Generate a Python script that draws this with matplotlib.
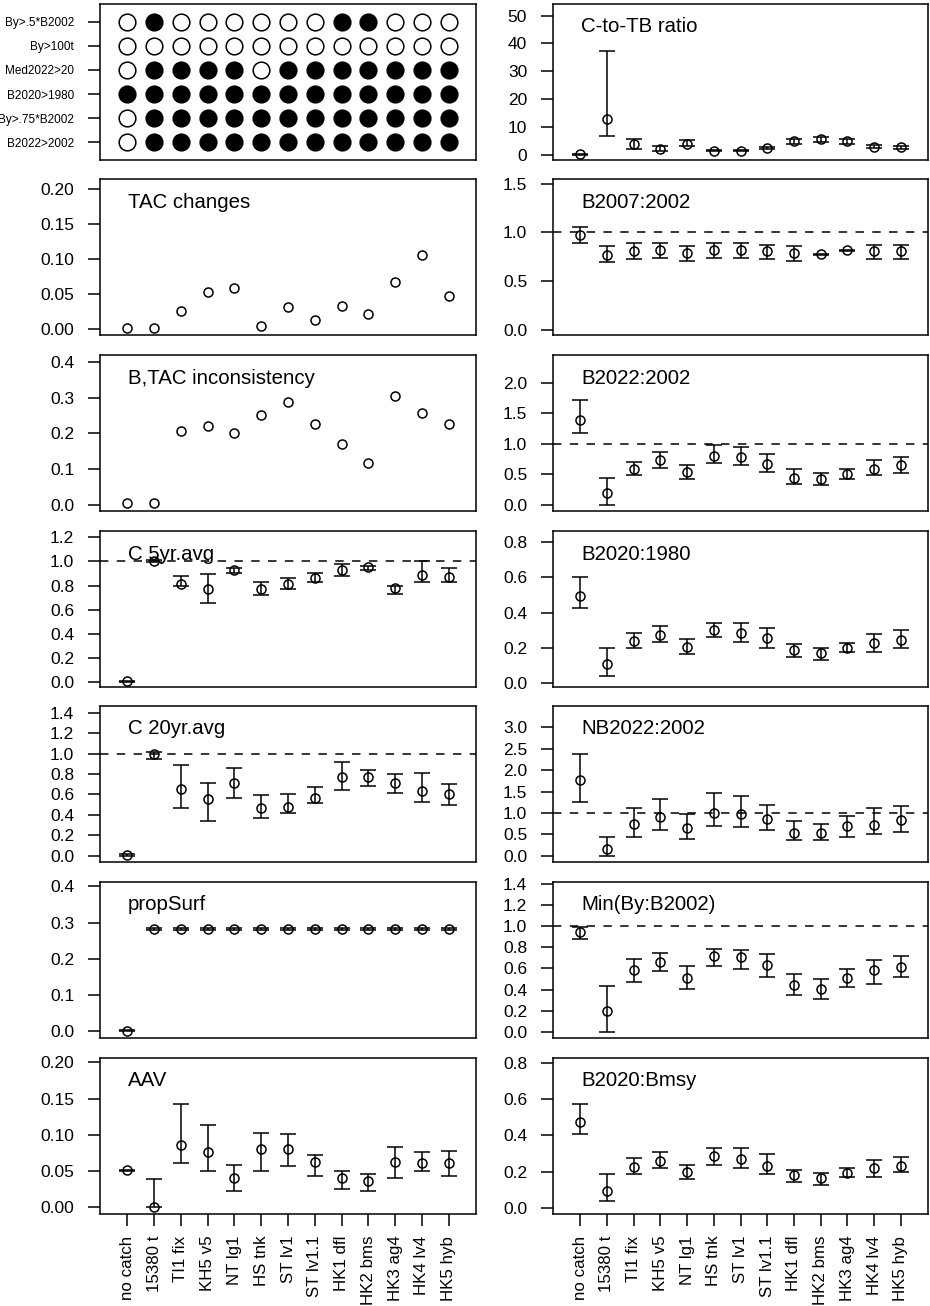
import numpy as np
import matplotlib.pyplot as plt

plt.rcParams['font.family'] = ['Liberation Sans', 'DejaVu Sans']

# management procedures (x axis)
mps = ['no catch', '15380 t', 'TI1 fix', 'KH5 v5', 'NT lg1', 'HS tnk', 'ST lv1',
       'ST lv1.1', 'HK1 dfl', 'HK2 bms', 'HK3 ag4', 'HK4 lv4', 'HK5 hyb']

# criteria panel (top to bottom), 1 = filled circle
crit_labels = ['By>.5*B2002', 'By>100t', 'Med2022>20', 'B2020>1980', 'By>.75*B2002', 'B2022>2002']
crit_by_half = [0, 1, 0, 0, 0, 0, 0, 0, 1, 1, 0, 0, 0]
crit_by_100t = [0, 0, 0, 0, 0, 0, 0, 0, 0, 0, 0, 0, 0]
crit_med2022 = [0, 1, 1, 1, 1, 0, 1, 1, 1, 1, 1, 1, 1]
crit_b2020 = [1, 1, 1, 1, 1, 1, 1, 1, 1, 1, 1, 1, 1]
crit_by_75 = [0, 1, 1, 1, 1, 1, 1, 1, 1, 1, 1, 1, 1]
crit_b2022 = [0, 1, 1, 1, 1, 1, 1, 1, 1, 1, 1, 1, 1]

# point-only panels
tac_changes = [0.002, 0.002, 0.027, 0.054, 0.059, 0.005, 0.032, 0.013, 0.034, 0.022, 0.068, 0.107, 0.048]
btac_incons = [0.004, 0.004, 0.207, 0.220, 0.202, 0.252, 0.287, 0.225, 0.171, 0.118, 0.305, 0.256, 0.225]

# panels with intervals: median, lower, upper
ctb_med = [0.1, 12.9, 3.9, 1.9, 3.9, 1.4, 1.4, 2.4, 4.9, 5.6, 4.9, 2.9, 2.75]
ctb_lo = [0.0, 6.9, 2.0, 1.5, 3.0, 1.2, 1.2, 2.0, 3.9, 4.4, 3.8, 2.3, 2.2]
ctb_hi = [0.2, 37.3, 5.6, 3.3, 5.3, 1.7, 1.6, 2.6, 5.6, 6.3, 5.7, 3.5, 3.3]

c5_med = [0.005, 1.005, 0.81, 0.768, 0.926, 0.768, 0.81, 0.862, 0.926, 0.953, 0.776, 0.887, 0.873]
c5_lo = [0.0, 0.995, 0.795, 0.654, 0.906, 0.718, 0.77, 0.826, 0.879, 0.931, 0.734, 0.826, 0.826]
c5_hi = [0.01, 1.015, 0.879, 0.893, 0.948, 0.826, 0.862, 0.906, 0.976, 0.964, 0.798, 1.006, 0.942]

c20_med = [0.01, 1.0, 0.65, 0.552, 0.708, 0.464, 0.48, 0.565, 0.767, 0.767, 0.708, 0.633, 0.601]
c20_lo = [0.0, 0.95, 0.471, 0.344, 0.562, 0.373, 0.418, 0.513, 0.643, 0.679, 0.61, 0.529, 0.497]
c20_hi = [0.015, 1.01, 0.887, 0.714, 0.854, 0.591, 0.607, 0.669, 0.919, 0.838, 0.796, 0.809, 0.702]

surf_med = [0.002, 0.283, 0.283, 0.283, 0.283, 0.283, 0.283, 0.283, 0.283, 0.283, 0.283, 0.283, 0.283]
surf_lo = [0.001, 0.281, 0.281, 0.281, 0.281, 0.281, 0.281, 0.281, 0.281, 0.281, 0.281, 0.281, 0.281]
surf_hi = [0.003, 0.284, 0.284, 0.284, 0.284, 0.284, 0.284, 0.284, 0.284, 0.284, 0.284, 0.284, 0.284]

aav_med = [0.051, 0.0005, 0.086, 0.076, 0.040, 0.080, 0.080, 0.062, 0.040, 0.036, 0.062, 0.061, 0.061]
aav_lo = [0.050, 0.0, 0.061, 0.050, 0.023, 0.050, 0.057, 0.044, 0.026, 0.023, 0.041, 0.050, 0.044]
aav_hi = [0.052, 0.039, 0.143, 0.114, 0.059, 0.103, 0.101, 0.072, 0.050, 0.046, 0.083, 0.076, 0.078]

b07_med = [0.969, 0.77, 0.805, 0.818, 0.788, 0.818, 0.818, 0.805, 0.788, 0.78, 0.82, 0.805, 0.805]
b07_lo = [0.897, 0.695, 0.729, 0.743, 0.712, 0.743, 0.737, 0.729, 0.712, 0.765, 0.808, 0.729, 0.729]
b07_hi = [1.06, 0.863, 0.897, 0.897, 0.863, 0.897, 0.897, 0.873, 0.863, 0.78, 0.82, 0.873, 0.873]

b22_med = [1.384, 0.20, 0.594, 0.730, 0.545, 0.80, 0.78, 0.67, 0.44, 0.42, 0.507, 0.594, 0.649]
b22_lo = [1.183, 0.0, 0.485, 0.610, 0.43, 0.69, 0.648, 0.54, 0.343, 0.32, 0.43, 0.485, 0.529]
b22_hi = [1.711, 0.447, 0.708, 0.867, 0.654, 0.98, 0.948, 0.839, 0.583, 0.518, 0.583, 0.730, 0.79]

b80_med = [0.493, 0.106, 0.236, 0.273, 0.207, 0.30, 0.282, 0.253, 0.188, 0.171, 0.20, 0.226, 0.246]
b80_lo = [0.426, 0.038, 0.196, 0.23, 0.167, 0.259, 0.23, 0.196, 0.15, 0.13, 0.178, 0.178, 0.20]
b80_hi = [0.599, 0.196, 0.284, 0.322, 0.25, 0.342, 0.342, 0.313, 0.221, 0.20, 0.226, 0.276, 0.298]

nb22_med = [1.76, 0.155, 0.752, 0.907, 0.651, 1.008, 0.984, 0.868, 0.535, 0.535, 0.69, 0.721, 0.829]
nb22_lo = [1.256, 0.0, 0.442, 0.597, 0.403, 0.698, 0.674, 0.597, 0.364, 0.364, 0.442, 0.519, 0.558]
nb22_hi = [2.38, 0.442, 1.116, 1.333, 0.984, 1.473, 1.403, 1.178, 0.814, 0.736, 0.922, 1.116, 1.155]

minb_med = [0.947, 0.195, 0.582, 0.657, 0.509, 0.72, 0.704, 0.629, 0.447, 0.406, 0.509, 0.588, 0.613]
minb_lo = [0.88, 0.0, 0.469, 0.572, 0.409, 0.619, 0.594, 0.519, 0.346, 0.314, 0.425, 0.456, 0.519]
minb_hi = [0.99, 0.437, 0.692, 0.742, 0.619, 0.786, 0.77, 0.739, 0.547, 0.50, 0.594, 0.682, 0.714]

bmsy_med = [0.471, 0.095, 0.228, 0.261, 0.20, 0.287, 0.27, 0.234, 0.184, 0.164, 0.192, 0.219, 0.234]
bmsy_lo = [0.405, 0.037, 0.186, 0.223, 0.159, 0.237, 0.223, 0.186, 0.142, 0.126, 0.17, 0.17, 0.197]
bmsy_hi = [0.57, 0.186, 0.274, 0.309, 0.237, 0.329, 0.329, 0.298, 0.21, 0.195, 0.219, 0.265, 0.283]

W, H = 930, 1306
row_tops = [4, 179, 355, 531, 706, 882, 1058]
PH = 156
left_x = (100, 476)
right_x = (553, 928)
x = np.arange(1, len(mps) + 1)


def make_ax(fig, col, row):
    x0, x1 = col
    top = row_tops[row]
    ax = fig.add_axes([x0 / W, 1 - (top + PH) / H, (x1 - x0) / W, PH / H])
    ax.set_xlim(-0.02, 14.02)
    for s in ax.spines.values():
        s.set_linewidth(1.1)
    ax.tick_params(axis='y', length=8.6, width=1.1, pad=10, labelsize=12.5)
    ax.set_xticks([])
    return ax


def finish(ax, title, ylim, ticks, fmt, ref=False, bottom=False):
    ax.set_ylim(*ylim)
    ax.set_yticks(ticks)
    ax.set_yticklabels([fmt.format(t) for t in ticks])
    if ref:
        ax.axhline(1.0, color='black', lw=1.1, ls=(0, (5.5, 5.5)), zorder=1)
    ax.text(28 / 376, 1 - 23 / PH, title, transform=ax.transAxes, fontsize=14.7,
            ha='left', va='center')
    if bottom:
        ax.set_xticks(x)
        ax.set_xticklabels(mps, rotation=90, fontsize=12.2)
        ax.tick_params(axis='x', length=8.6, width=1.1, pad=7)


def interval(ax, med, lo, hi):
    med = np.array(med)
    err = [med - np.array(lo), np.array(hi) - med]
    ax.errorbar(x, med, yerr=err, fmt='o', mfc='none', mec='black', mew=1.1, ms=6.5,
                ecolor='black', elinewidth=1.1, capsize=5.5, capthick=1.1, zorder=3)


fig = plt.figure(figsize=(W / 100, H / 100), dpi=100)

# criteria matrix
ax = make_ax(fig, left_x, 0)
rows = [crit_by_half, crit_by_100t, crit_med2022, crit_b2020, crit_by_75, crit_b2022]
for i, r in enumerate(rows):
    yy = len(rows) - i
    for j, v in enumerate(r):
        ax.plot(x[j], yy, 'o', ms=12, mew=1.1, mec='black',
                mfc='black' if v else 'white')
ax.set_ylim(0.26, 6.74)
ax.set_yticks(np.arange(len(rows), 0, -1))
ax.set_yticklabels(crit_labels)
ax.tick_params(axis='y', labelsize=8.5)

ax = make_ax(fig, left_x, 1)
ax.plot(x, tac_changes, 'o', mfc='none', mec='black', mew=1.1, ms=6.5)
finish(ax, 'TAC changes', (-0.008, 0.215), [0, 0.05, 0.10, 0.15, 0.20], '{:.2f}')

ax = make_ax(fig, left_x, 2)
ax.plot(x, btac_incons, 'o', mfc='none', mec='black', mew=1.1, ms=6.5)
finish(ax, 'B,TAC inconsistency', (-0.017, 0.419), [0, 0.1, 0.2, 0.3, 0.4], '{:.1f}')

ax = make_ax(fig, left_x, 3)
interval(ax, c5_med, c5_lo, c5_hi)
finish(ax, 'C 5yr.avg', (-0.042, 1.253), np.arange(0, 1.21, 0.2), '{:.1f}', ref=True)

ax = make_ax(fig, left_x, 4)
interval(ax, c20_med, c20_lo, c20_hi)
finish(ax, 'C 20yr.avg', (-0.062, 1.465), np.arange(0, 1.41, 0.2), '{:.1f}', ref=True)

ax = make_ax(fig, left_x, 5)
interval(ax, surf_med, surf_lo, surf_hi)
finish(ax, 'propSurf', (-0.018, 0.412), [0, 0.1, 0.2, 0.3, 0.4], '{:.1f}')

ax = make_ax(fig, left_x, 6)
interval(ax, aav_med, aav_lo, aav_hi)
finish(ax, 'AAV', (-0.009, 0.206), [0, 0.05, 0.10, 0.15, 0.20], '{:.2f}', bottom=True)

ax = make_ax(fig, right_x, 0)
interval(ax, ctb_med, ctb_lo, ctb_hi)
finish(ax, 'C-to-TB ratio', (-1.9, 54.2), [0, 10, 20, 30, 40, 50], '{:.0f}')

ax = make_ax(fig, right_x, 1)
interval(ax, b07_med, b07_lo, b07_hi)
finish(ax, 'B2007:2002', (-0.051, 1.548), [0, 0.5, 1.0, 1.5], '{:.1f}', ref=True)

ax = make_ax(fig, right_x, 2)
interval(ax, b22_med, b22_lo, b22_hi)
finish(ax, 'B2022:2002', (-0.1, 2.45), [0, 0.5, 1.0, 1.5, 2.0], '{:.1f}', ref=True)

ax = make_ax(fig, right_x, 3)
interval(ax, b80_med, b80_lo, b80_hi)
finish(ax, 'B2020:1980', (-0.023, 0.863), [0, 0.2, 0.4, 0.6, 0.8], '{:.1f}')

ax = make_ax(fig, right_x, 4)
interval(ax, nb22_med, nb22_lo, nb22_hi)
finish(ax, 'NB2022:2002', (-0.14, 3.49), np.arange(0, 3.01, 0.5), '{:.1f}', ref=True)

ax = make_ax(fig, right_x, 5)
interval(ax, minb_med, minb_lo, minb_hi)
finish(ax, 'Min(By:B2002)', (-0.057, 1.416), np.arange(0, 1.41, 0.2), '{:.1f}', ref=True)

ax = make_ax(fig, right_x, 6)
interval(ax, bmsy_med, bmsy_lo, bmsy_hi)
finish(ax, 'B2020:Bmsy', (-0.033, 0.826), [0, 0.2, 0.4, 0.6, 0.8], '{:.1f}', bottom=True)

fig.savefig('out.png', dpi=100)
